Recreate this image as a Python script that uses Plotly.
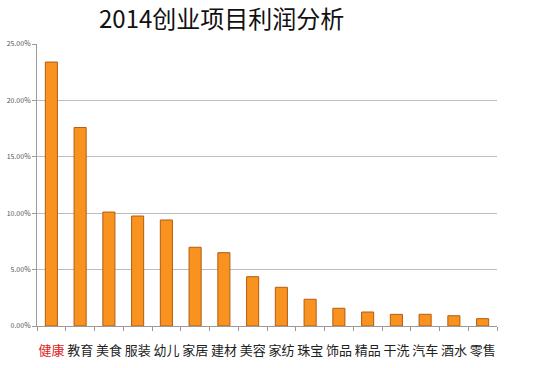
import plotly.graph_objects as go

categories = ["健康", "教育", "美食", "服装", "幼儿", "家居", "建材", "美容",
              "家纺", "珠宝", "饰品", "精品", "干洗", "汽车", "酒水", "零售"]
profit = [0.234, 0.176, 0.101, 0.0975, 0.094, 0.0698, 0.065, 0.0437,
          0.0343, 0.0237, 0.0157, 0.0124, 0.0103, 0.0104, 0.0091, 0.0065]
y_ticks = [0, 0.05, 0.10, 0.15, 0.20, 0.25]
y_labels = ["0.00%", "5.00%", "10.00%", "15.00%", "20.00%", "25.00%"]
title_text = "2014创业项目利润分析"
highlight = "健康"

ticktext = [f"<span style='color:#E0221B'>{c}</span>" if c == highlight else c
            for c in categories]

fig = go.Figure()
fig.add_trace(go.Bar(
    x=categories, y=profit, width=0.42,
    marker=dict(color="#F7931E", line=dict(color="#B65A12", width=1)),
))

fig.update_layout(
    width=551, height=368,
    margin=dict(l=37, r=54, t=44, b=42, autoexpand=False),
    paper_bgcolor="white", plot_bgcolor="white",
    showlegend=False,
    font=dict(family="Noto Sans CJK SC"),
    annotations=[dict(
        text=title_text, xref="paper", yref="paper",
        x=(221 - 37) / 460, y=1 + (44 - 18) / 282,
        xanchor="center", yanchor="middle", showarrow=False,
        font=dict(size=24, color="#111", family="Noto Sans CJK SC"),
    )],
)
fig.update_xaxes(
    type="category", tickmode="array", tickvals=categories, ticktext=ticktext,
    tickangle=0, automargin=False,
    showline=True, linecolor="#9A9A9A", linewidth=1,
    ticks="outside", tickson="boundaries", ticklen=4, tickcolor="#9A9A9A",
    tickfont=dict(size=13, color="#222"),
    ticklabelstandoff=12, showgrid=False,
)
fig.update_yaxes(
    range=[0, 0.25], tickmode="array", tickvals=y_ticks, ticktext=y_labels,
    automargin=False,
    showline=True, linecolor="#9A9A9A", linewidth=1,
    ticks="outside", ticklen=4, tickcolor="#9A9A9A",
    tickfont=dict(size=7, color="#555"),
    showgrid=True, gridcolor="#BDBDBD", gridwidth=1, zeroline=False,
)

fig.write_html("out.html", config={"displayModeBar": False},
               post_script="document.body.style.margin='0px';document.body.style.overflow='hidden';")
